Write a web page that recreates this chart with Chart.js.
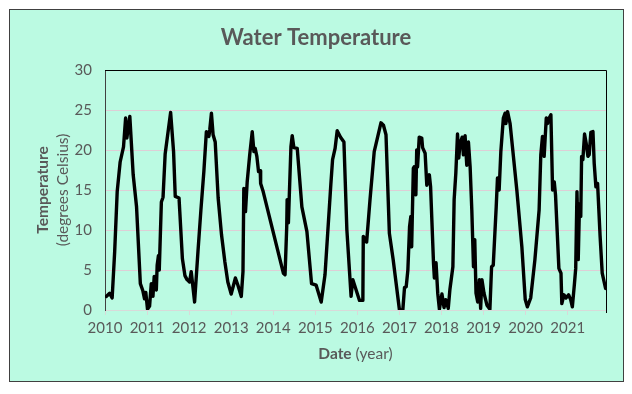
<!DOCTYPE html>
<html><head><meta charset="utf-8">
<script src="https://cdn.jsdelivr.net/npm/chart.js@4.4.0/dist/chart.umd.min.js"></script>
<style>html,body{margin:0;padding:0;background:#fff}#wrap{width:632px;height:394px}</style>
</head><body><div id="wrap"><canvas id="c" width="632" height="394"></canvas></div>
<script>
const CHART_TITLE = 'Water Temperature';
const Y_TITLE = ['Temperature', '(degrees Celsius)'];
const X_TITLE = ['Date', ' (year)'];
const yearTicks = [2010, 2011, 2012, 2013, 2014, 2015, 2016, 2017, 2018, 2019, 2020, 2021];
const tempTicks = [0, 5, 10, 15, 20, 25, 30];

const dates = [
2010.03,2010.11,2010.17,2010.23,2010.29,2010.36,2010.44,2010.49,2010.52,2010.59,2010.67,2010.75,2010.84,2010.90,2010.94,2010.97,
2011.01,2011.06,2011.10,2011.14,2011.17,2011.22,2011.24,2011.27,2011.29,2011.34,2011.38,2011.43,2011.56,2011.63,2011.67,2011.76,2011.84,2011.90,2011.95,
2012.01,2012.05,2012.13,2012.21,2012.28,2012.35,2012.41,2012.47,2012.49,2012.53,2012.57,2012.62,2012.69,2012.77,2012.85,2012.92,
2013.00,2013.10,2013.16,2013.24,2013.28,2013.30,2013.34,2013.38,2013.44,2013.50,2013.54,2013.57,2013.61,2013.65,2013.69,2013.70,2013.76,
2014.24,2014.28,2014.32,2014.33,2014.36,2014.42,2014.45,2014.49,2014.57,2014.68,2014.80,2014.91,
2015.02,2015.14,2015.23,2015.37,2015.41,2015.47,2015.52,2015.60,2015.68,2015.75,2015.85,2015.89,2015.97,
2016.05,2016.13,2016.14,2016.22,2016.30,2016.40,2016.56,2016.62,2016.68,2016.76,2016.85,
2017.00,2017.08,2017.12,2017.16,2017.20,2017.24,2017.27,2017.29,2017.33,2017.35,2017.39,2017.41,2017.43,2017.47,2017.53,2017.55,2017.61,2017.65,2017.71,2017.74,2017.81,2017.83,2017.87,2017.91,2017.95,
2018.01,2018.06,2018.10,2018.16,2018.20,2018.27,2018.30,2018.34,2018.38,2018.41,2018.44,2018.49,2018.52,2018.56,2018.60,2018.64,2018.68,2018.72,2018.76,2018.79,2018.82,2018.86,2018.90,2018.93,2018.96,
2019.01,2019.08,2019.15,2019.19,2019.23,2019.30,2019.33,2019.37,2019.41,2019.47,2019.51,2019.53,2019.57,2019.63,2019.79,2019.91,2019.99,
2020.04,2020.12,2020.22,2020.32,2020.36,2020.40,2020.44,2020.49,2020.52,2020.56,2020.60,2020.64,2020.68,2020.71,2020.79,2020.84,2020.86,2020.91,2020.96,
2021.02,2021.07,2021.11,2021.16,2021.19,2021.22,2021.24,2021.25,2021.28,2021.31,2021.33,2021.36,2021.40,2021.44,2021.48,2021.51,2021.55,2021.60,2021.63,2021.67,2021.71,2021.77,2021.82,2021.90
];
const temps = [
1.7,2.1,1.5,7.3,14.8,18.5,20.4,24.0,21.5,24.2,16.9,12.9,3.3,2.4,1.4,2.2,
0.1,0.5,3.3,1.7,4.2,2.5,5.6,6.8,5.0,13.5,14.1,19.5,24.7,19.8,14.2,14.0,6.4,4.3,3.8,
3.5,4.8,1.0,7.3,12.5,17.3,22.3,21.7,22.5,24.6,21.9,21.0,14.0,9.4,6.0,3.5,
2.0,4.0,3.1,1.7,4.8,15.2,12.3,16.0,19.4,22.3,19.8,20.2,19.2,17.3,17.4,15.8,14.8,
4.6,4.4,10.4,13.8,10.9,20.4,21.8,20.3,20.2,12.9,9.8,3.3,
3.1,1.0,4.4,15.8,18.8,20.2,22.4,21.6,21.0,10.0,1.7,3.8,2.5,
1.2,1.2,9.2,8.5,13.8,19.8,23.4,23.1,21.9,9.6,6.3,
0.0,0.0,2.8,2.9,5.0,10.4,11.7,7.9,17.7,17.9,14.4,20.0,17.9,21.6,21.5,20.3,19.6,15.6,16.9,15.4,5.8,4.0,5.9,2.1,0.1,
2.0,0.3,1.3,0.2,2.6,5.4,13.8,17.1,22.0,19.0,20.8,21.6,19.4,21.8,18.1,21.0,17.9,12.5,5.4,8.8,2.1,1.0,3.8,0.2,3.8,
2.1,0.6,0.1,5.4,5.6,12.9,16.5,15.0,19.8,24.0,24.6,23.3,24.8,23.3,15.0,7.9,1.3,
0.4,1.5,6.3,12.5,19.4,21.7,19.2,24.0,23.3,24.0,24.4,15.0,16.0,14.4,5.2,4.6,0.8,1.9,1.5,
1.9,1.3,0.4,3.3,5.2,14.8,10.0,6.3,13.3,11.7,19.2,18.8,22.0,20.8,19.2,19.4,22.2,22.3,18.3,15.4,15.8,9.2,4.6,2.7
];

const X_MIN = 2010, X_MAX = 2021.91;
const MINT = 'rgb(187,250,226)';
const TXT = '#595959';
const FONT = 'Lato, "Open Sans", sans-serif';

const frame = {
  id: 'frame',
  beforeDraw(chart) {
    const ctx = chart.ctx;
    ctx.save();
    ctx.fillStyle = '#ffffff';
    ctx.fillRect(0, 0, chart.width, chart.height);
    ctx.fillStyle = MINT;
    ctx.fillRect(10, 10, 614, 372);
    ctx.strokeStyle = '#404040';
    ctx.lineWidth = 1;
    ctx.strokeRect(9.5, 9.5, 614, 372);
    ctx.restore();
  },
  afterDraw(chart) {
    const ctx = chart.ctx, a = chart.chartArea;
    ctx.save();
    ctx.strokeStyle = '#000';
    ctx.lineWidth = 1;
    ctx.beginPath();
    ctx.moveTo(a.left, Math.round(a.top) + 0.5);
    ctx.lineTo(Math.round(a.right) + 0.5, Math.round(a.top) + 0.5);
    ctx.lineTo(Math.round(a.right) + 0.5, a.bottom + 3);
    ctx.stroke();
    ctx.fillStyle = TXT;
    ctx.textAlign = 'center';
    ctx.textBaseline = 'middle';
    // chart title
    ctx.font = 'bold 22px ' + FONT;
    ctx.fillText(CHART_TITLE, 316, 38);
    // y title
    ctx.translate(43, (a.top + a.bottom) / 2);
    ctx.rotate(-Math.PI / 2);
    ctx.font = 'bold 15.5px ' + FONT;
    ctx.fillText(Y_TITLE[0], 0, 0);
    ctx.font = '15.5px ' + FONT;
    ctx.fillText(Y_TITLE[1], 0, 20);
    ctx.setTransform(1, 0, 0, 1, 0, 0);
    // x title
    ctx.textAlign = 'left';
    ctx.font = 'bold 15.5px ' + FONT;
    const w1 = ctx.measureText(X_TITLE[0]).width;
    ctx.font = '15.5px ' + FONT;
    const w2 = ctx.measureText(X_TITLE[1]).width;
    const cx = (a.left + a.right) / 2, cy = 354;
    let x0 = cx - (w1 + w2) / 2;
    ctx.font = 'bold 15.5px ' + FONT;
    ctx.fillText(X_TITLE[0], x0, cy);
    ctx.font = '15.5px ' + FONT;
    ctx.fillText(X_TITLE[1], x0 + w1, cy);
    ctx.restore();
  }
};

new Chart(document.getElementById('c'), {
  type: 'line',
  data: {
    datasets: [{
      data: dates.map((d, i) => ({ x: d, y: temps[i] })),
      borderColor: '#000',
      borderWidth: 3.4,
      pointRadius: 0,
      tension: 0,
      borderJoinStyle: 'round',
      borderCapStyle: 'round',
      fill: false
    }]
  },
  options: {
    responsive: false,
    animation: false,
    devicePixelRatio: 1,
    layout: { padding: { top: 70, left: 0, right: 26, bottom: 0 } },
    plugins: {
      legend: { display: false },
      tooltip: { enabled: false },
      title: { display: false }
    },
    scales: {
      x: {
        type: 'linear',
        min: X_MIN,
        max: X_MAX,
        afterFit(s) { s.height = 84; },
        afterBuildTicks(s) { s.ticks = yearTicks.map(v => ({ value: v })); },
        grid: { display: true, drawOnChartArea: false, drawTicks: true, tickLength: 5, color: '#d9d9d9' },
        border: { display: true, color: '#d9d9d9', width: 1 },
        ticks: { color: TXT, font: { family: FONT, size: 15 }, padding: 4, maxRotation: 0, autoSkip: false, callback: v => String(v) }
      },
      y: {
        min: 0,
        max: 30,
        afterFit(s) { s.width = 105; },
        afterBuildTicks(s) { s.ticks = tempTicks.map(v => ({ value: v })); },
        grid: { color: 'rgb(222,206,214)', drawTicks: false, lineWidth: 1 },
        border: { display: true, color: '#404040', width: 1 },
        ticks: { color: TXT, font: { family: FONT, size: 15 }, padding: 13 }
      }
    }
  },
  plugins: [frame]
});
</script>
</body></html>
